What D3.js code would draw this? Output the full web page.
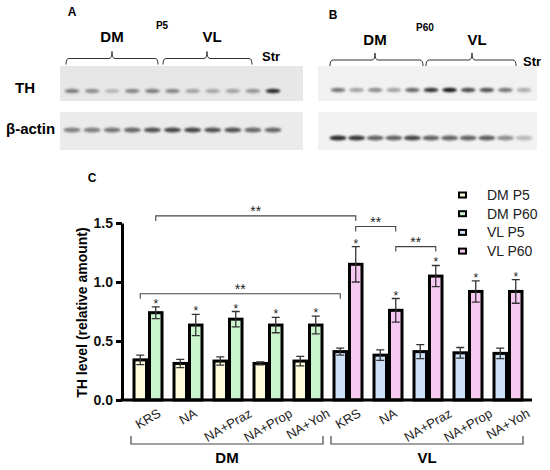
<!DOCTYPE html>
<html>
<head>
<meta charset="utf-8">
<script src="https://cdn.jsdelivr.net/npm/d3@7"></script>
<style>
body { margin: 0; background: #fff; }
svg { display: block; font-family: "Liberation Sans", Arial, sans-serif; }
</style>
</head>
<body>
<div id="chart"></div>
<script>
// ---- chart data (panel C) ----
var treatments = ["KRS", "NA", "NA+Praz", "NA+Prop", "NA+Yoh"];
var regions = ["DM", "VL"];
var seriesNames = ["DM P5", "DM P60", "VL P5", "VL P60"];
var seriesColors = ["#fdfbdb", "#c9f4cc", "#cde0f7", "#f5c9f1"];

var dmP5 = [0.34, 0.31, 0.33, 0.31, 0.33];
var dmP5Err = [0.04, 0.035, 0.035, 0.012, 0.04];
var dmP60 = [0.74, 0.635, 0.685, 0.635, 0.635];
var dmP60Err = [0.05, 0.09, 0.065, 0.065, 0.075];
var vlP5 = [0.41, 0.38, 0.41, 0.40, 0.395];
var vlP5Err = [0.03, 0.045, 0.06, 0.045, 0.045];
var vlP60 = [1.15, 0.76, 1.05, 0.92, 0.92];
var vlP60Err = [0.15, 0.10, 0.09, 0.09, 0.10];

var yTicks = [0, 0.5, 1.0, 1.5];

// brackets: group index / age index (0 = P5, 1 = P60), level in data units
var sigBrackets = [
    { a: 0, ageA: 1, b: 5, ageB: 1, level: 1.56, label: "**" },
    { a: 0, ageA: 0, b: 5, ageB: 0, level: 0.90, label: "**" },
    { a: 5, ageA: 1, b: 6, ageB: 1, level: 1.47, label: "**" },
    { a: 6, ageA: 1, b: 7, ageB: 1, level: 1.30, label: "**" }
];

// ---- blot band intensities (0..1), panels A and B ----
var blotLabelsA = ["DM", "VL", "Str"];
var thA    = [0.50, 0.42, 0.22, 0.45, 0.50, 0.45, 0.32, 0.30, 0.32, 0.38, 0.90];
var actinA = [0.50, 0.50, 0.55, 0.62, 0.72, 0.78, 0.78, 0.72, 0.72, 0.62, 0.62];
var thB    = [0.55, 0.35, 0.45, 0.35, 0.60, 0.85, 0.98, 0.75, 0.72, 0.55, 0.30];
var actinB = [0.90, 0.85, 0.65, 0.65, 0.78, 0.65, 0.65, 0.65, 0.68, 0.45, 0.25];

var W = 550, H = 470;
var svg = d3.select("#chart").append("svg")
    .attr("width", W)
    .attr("height", H);

var defs = svg.append("defs");
defs.append("filter").attr("id", "bandBlur")
    .attr("x", "-30%").attr("y", "-100%").attr("width", "160%").attr("height", "300%")
    .append("feGaussianBlur").attr("stdDeviation", "1.1 0.9");

// ---------------- blots ----------------
function bracketPath(x1, x2, xm, y)
{
    var r = 3;
    return "M" + x1 + "," + (y + 6) + " Q" + x1 + "," + y + " " + (x1 + r) + "," + y +
	" L" + (xm - r) + "," + y + " Q" + xm + "," + y + " " + xm + "," + (y - 7) +
	" Q" + xm + "," + y + " " + (xm + r) + "," + y +
	" L" + (x2 - r) + "," + y + " Q" + x2 + "," + y + " " + x2 + "," + (y + 6);
}

function draw_blot(opt)
{
    var g = svg.append("g");
    var lane = d3.scalePoint().domain(d3.range(opt.th.length)).range(opt.laneRange);

    g.append("rect")
	.attr("x", opt.x0).attr("y", 66)
	.attr("width", opt.x1 - opt.x0).attr("height", 35)
	.attr("fill", opt.bg);
    g.append("rect")
	.attr("x", opt.x0).attr("y", 112)
	.attr("width", opt.x1 - opt.x0).attr("height", 38)
	.attr("fill", opt.bg2);

    g.selectAll(".th").data(opt.th).join("ellipse")
	.attr("cx", (d, i) => lane(i))
	.attr("cy", opt.thY)
	.attr("rx", 7.5).attr("ry", 2.2)
	.attr("fill", "#151515")
	.attr("opacity", d => d)
	.attr("filter", "url(#bandBlur)");

    g.selectAll(".actin").data(opt.actin).join("ellipse")
	.attr("cx", (d, i) => lane(i))
	.attr("cy", opt.actinY)
	.attr("rx", 8.5).attr("ry", 2.6)
	.attr("fill", "#151515")
	.attr("opacity", d => d)
	.attr("filter", "url(#bandBlur)");

    opt.brackets.forEach(function(b) {
	g.append("path")
	    .attr("d", bracketPath(b[0], b[1], b[2], opt.brY))
	    .attr("fill", "none")
	    .attr("stroke", "#333")
	    .attr("stroke-width", 1);
    });

    g.append("text").attr("x", opt.letter[0]).attr("y", opt.letter[1])
	.attr("font-size", 12).attr("font-weight", "bold").attr("text-anchor", "middle")
	.text(opt.letter[2]);
    g.append("text").attr("x", opt.age[0]).attr("y", opt.age[1])
	.attr("font-size", 10).attr("font-weight", "bold").attr("text-anchor", "middle")
	.text(opt.age[2]);
    opt.regionPos.forEach(function(p, i) {
	g.append("text").attr("x", p[0]).attr("y", p[1])
	    .attr("font-size", i == 2 ? 13 : 15).attr("font-weight", "bold").attr("text-anchor", "middle")
	    .text(blotLabelsA[i]);
    });
}

draw_blot({
    x0: 60, x1: 303, bg: "#e7e7e7", bg2: "#ebebeb",
    th: thA, actin: actinA, laneRange: [72, 273], thY: 91, actinY: 130,
    brY: 58.5,
    brackets: [[66, 158, 112], [163, 252, 207]],
    letter: [72, 16, "A"], age: [162, 29, "P5"],
    regionPos: [[112, 42], [212, 42], [271, 61]]
});
draw_blot({
    x0: 318, x1: 537, bg: "#f1f1f1", bg2: "#f2f2f2",
    th: thB, actin: actinB, laneRange: [338, 524], thY: 90, actinY: 138,
    brY: 60,
    brackets: [[330, 423, 375], [426, 516, 472]],
    letter: [333, 19, "B"], age: [425, 31, "P60"],
    regionPos: [[375, 45], [477, 45], [532, 66]]
});

svg.append("text").attr("x", 25).attr("y", 92.5)
    .attr("font-size", 15).attr("font-weight", "bold").attr("text-anchor", "middle")
    .text("TH");
svg.append("text").attr("x", 6).attr("y", 133.5)
    .attr("font-size", 15).attr("font-weight", "bold")
    .text("β-actin");

// ---------------- bar chart (C) ----------------
svg.append("text").attr("x", 92).attr("y", 181.5)
    .attr("font-size", 12).attr("font-weight", "bold").attr("text-anchor", "middle")
    .text("C");

var groups = [];
regions.forEach(function(r, ri) {
    treatments.forEach(function(t, ti) {
	var p5 = ri == 0 ? dmP5 : vlP5, p5e = ri == 0 ? dmP5Err : vlP5Err;
	var p60 = ri == 0 ? dmP60 : vlP60, p60e = ri == 0 ? dmP60Err : vlP60Err;
	groups.push({
	    region: r, treatment: t,
	    bars: [
		{ age: 0, value: p5[ti], err: p5e[ti], color: seriesColors[ri * 2], star: false },
		{ age: 1, value: p60[ti], err: p60e[ti], color: seriesColors[ri * 2 + 1], star: true }
	    ]
	});
    });
});

var x = d3.scaleBand().domain(d3.range(groups.length)).range([128, 528]);
var y = d3.scaleLinear().domain([0, 1.5]).range([400, 223]);
var barW = 15.5;

function barCenter(gi, age)
{
    var c = x(gi) + x.bandwidth() / 2;
    return age == 0 ? c - barW / 2 : c + barW / 2;
}

var chart = svg.append("g");

var gSel = chart.selectAll(".grp").data(groups).join("g");
var bars = gSel.selectAll(".bar").data((d, i) => d.bars.map(b => Object.assign({ gi: i }, b))).join("g");

bars.append("rect")
    .attr("x", d => barCenter(d.gi, d.age) - barW / 2 + 1.5)
    .attr("y", d => y(d.value))
    .attr("width", barW - 3)
    .attr("height", d => y(0) - y(d.value))
    .attr("fill", d => d.color)
    .attr("stroke", "#000")
    .attr("stroke-width", 3);

// error bars
bars.append("path")
    .attr("d", function(d) {
	var cx = barCenter(d.gi, d.age), t = y(d.value + d.err), b = y(d.value - d.err);
	return "M" + cx + "," + t + "V" + b + "M" + (cx - 4) + "," + t + "H" + (cx + 4) +
	    "M" + (cx - 4) + "," + b + "H" + (cx + 4);
    })
    .attr("stroke", "#333")
    .attr("stroke-width", 1.3)
    .attr("fill", "none");

bars.filter(d => d.star).append("text")
    .attr("x", d => barCenter(d.gi, d.age))
    .attr("y", d => y(d.value + d.err) + 1)
    .attr("text-anchor", "middle")
    .attr("font-size", 12)
    .attr("fill", "#222")
    .text("*");

// axes
var yAxis = d3.axisLeft(y).tickValues(yTicks).tickFormat(d3.format(".1f")).tickSize(6).tickSizeOuter(0);
var ya = chart.append("g").attr("transform", "translate(122,0)").call(yAxis);
ya.select(".domain").attr("stroke-width", 3).attr("stroke", "#000");
ya.selectAll(".tick line").attr("stroke-width", 3).attr("stroke", "#000");
ya.selectAll(".tick text")
    .attr("font-size", 14).attr("font-weight", "bold")
    .attr("font-family", "Liberation Sans, Arial, sans-serif")
    .attr("fill", "#111").attr("x", -9);

chart.append("line")
    .attr("x1", 120.5).attr("x2", 532)
    .attr("y1", y(0)).attr("y2", y(0))
    .attr("stroke", "#000").attr("stroke-width", 3);

chart.append("text")
    .attr("transform", "translate(87," + ((y(0) + y(1.5)) / 2 + 1) + ") rotate(-90)")
    .attr("text-anchor", "middle")
    .attr("font-size", 14).attr("font-weight", "bold")
    .text("TH level (relative amount)");

// x labels
chart.selectAll(".xl").data(groups).join("text")
    .attr("text-anchor", "middle")
    .attr("font-size", 13)
    .attr("fill", "#222")
    .attr("dy", "0.35em")
    .text(d => d.treatment)
    .each(function(d, i) {
	var L = this.getComputedTextLength();
	var cx = x(i) + x.bandwidth() / 2;
	d3.select(this).attr("transform", "translate(" + cx + "," + (412 + L / 2 * 0.5) + ") rotate(-30)");
    });

// region brackets
regions.forEach(function(r, ri) {
    var first = ri * treatments.length, last = first + treatments.length - 1;
    var x1 = x(first) + 3, x2 = x(last) + x.bandwidth() - 5;
    chart.append("path")
	.attr("d", "M" + x1 + ",436V444H" + x2 + "V436")
	.attr("fill", "none").attr("stroke", "#444").attr("stroke-width", 1.2);
    chart.append("text")
	.attr("x", (x1 + x2) / 2).attr("y", 463)
	.attr("text-anchor", "middle")
	.attr("font-size", 15).attr("font-weight", "bold")
	.text(r);
});

// significance brackets
sigBrackets.forEach(function(s) {
    var x1 = barCenter(s.a, s.ageA), x2 = barCenter(s.b, s.ageB), yy = y(s.level);
    chart.append("path")
	.attr("d", "M" + x1 + "," + (yy + 5) + "V" + yy + "H" + x2 + "V" + (yy + 5))
	.attr("fill", "none").attr("stroke", "#444").attr("stroke-width", 1.1);
    chart.append("text")
	.attr("x", (x1 + x2) / 2).attr("y", yy + 0.5)
	.attr("text-anchor", "middle")
	.attr("font-size", 14)
	.attr("fill", "#222")
	.text(s.label);
});

// legend
var legend = chart.append("g").selectAll("g").data(seriesNames).join("g")
    .attr("transform", (d, i) => "translate(458," + (195 + i * 18.7) + ")");
legend.append("rect")
    .attr("x", 1).attr("y", -2.5)
    .attr("width", 7).attr("height", 5)
    .attr("fill", (d, i) => seriesColors[i])
    .attr("stroke", "#000").attr("stroke-width", 2);
legend.append("text")
    .attr("x", 29).attr("y", 5)
    .attr("font-size", 14)
    .attr("fill", "#222")
    .text(d => d);
</script>
</body>
</html>
